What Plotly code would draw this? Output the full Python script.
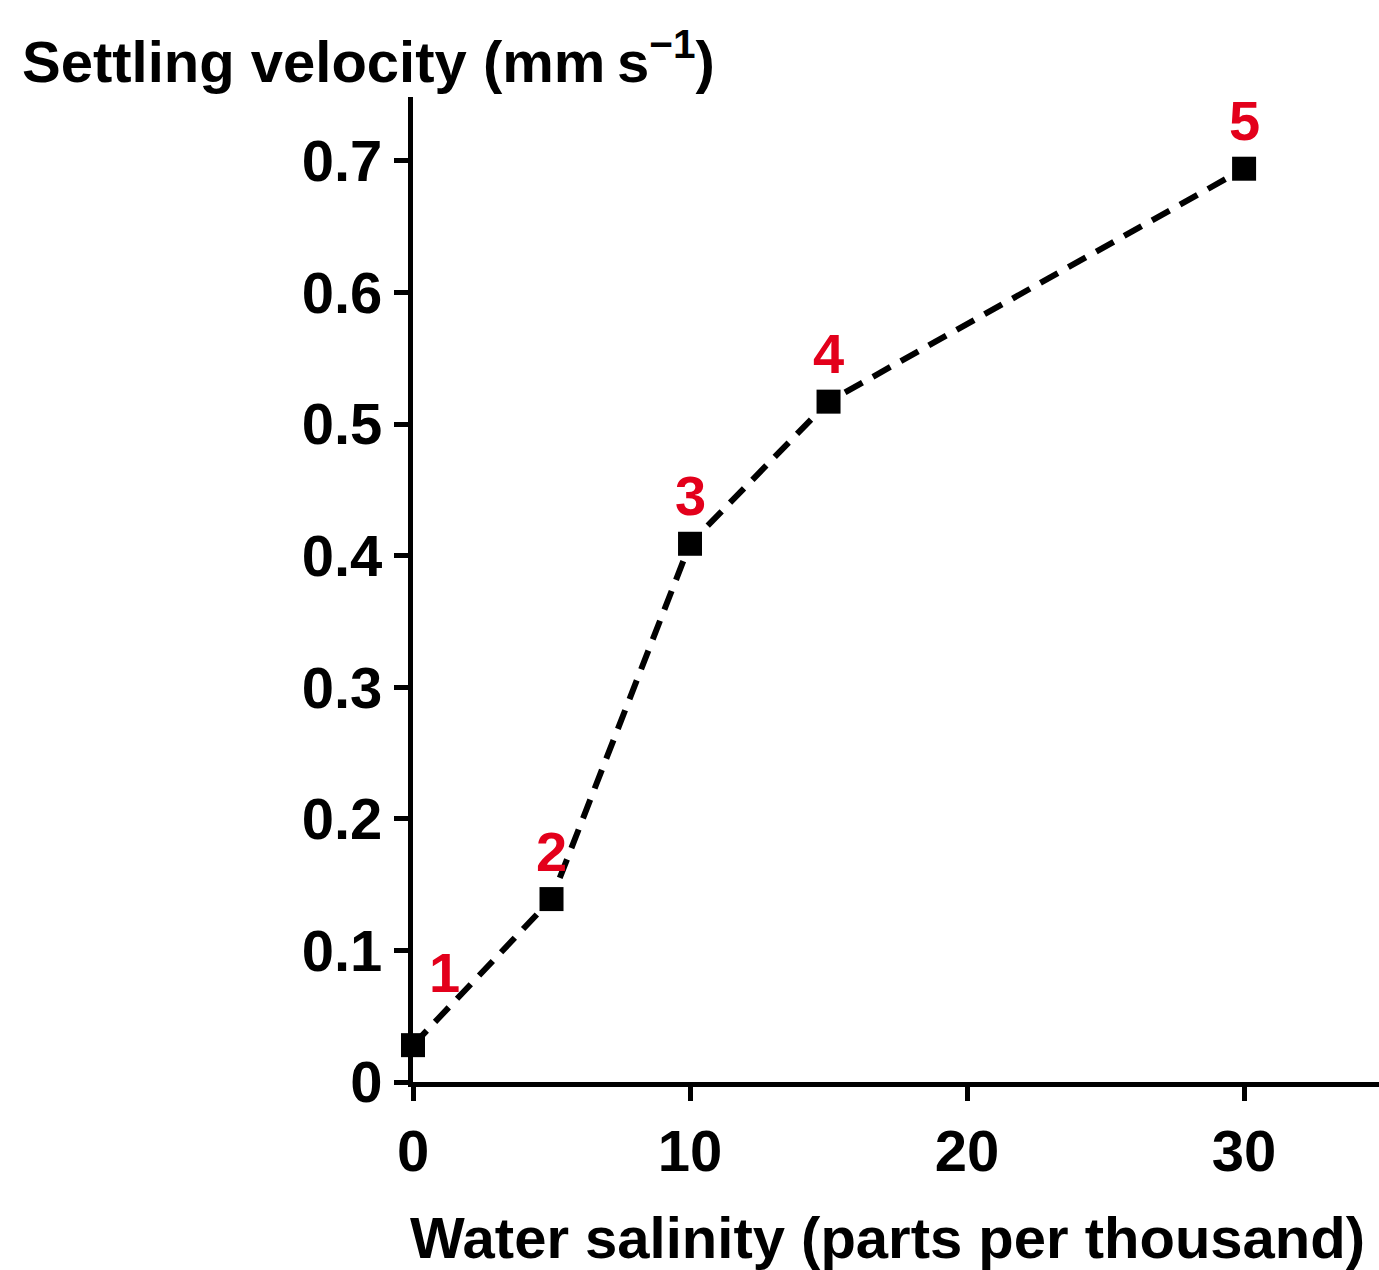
import plotly.graph_objects as go

salinity = [0, 5, 10, 15, 30]
velocity = [0.028, 0.139, 0.409, 0.517, 0.694]
point_labels = ["1", "2", "3", "4", "5"]
x_ticks = [0, 10, 20, 30]
x_tick_text = ["0", "10", "20", "30"]
y_ticks = [0, 0.1, 0.2, 0.3, 0.4, 0.5, 0.6, 0.7]
y_tick_text = ["0", "0.1", "0.2", "0.3", "0.4", "0.5", "0.6", "0.7"]

FONT = "Liberation Sans, Arial, sans-serif"
RED = "#e3001b"

fig = go.Figure()
fig.add_trace(go.Scatter(
    x=salinity, y=velocity, mode="lines+markers",
    line=dict(color="black", width=6, dash="20px,12px"),
    marker=dict(symbol="square", size=24, color="black"),
    cliponaxis=False, showlegend=False, hoverinfo="skip",
))

for i, (xv, yv, lab) in enumerate(zip(salinity, velocity, point_labels)):
    if i == 0:
        xs, ys = 31, 73
    else:
        xs, ys = 0, 48
    fig.add_annotation(x=xv, y=yv, text=f"<b>{lab}</b>", showarrow=False,
                       xshift=xs, yshift=ys,
                       font=dict(family=FONT, size=56, color=RED))

fig.add_annotation(xref="paper", yref="paper", x=(20 - 413) / 966, y=1 + 40/985,
                   xanchor="left", yanchor="middle", showarrow=False,
                   text="<b>Settling velocity (mm\u2009s<sup>\u22121</sup>)</b>",
                   font=dict(family=FONT, size=58, color="black"))
fig.add_annotation(xref="paper", yref="paper", x=(1367 - 413) / 966, y=-155/985,
                   xanchor="right", yanchor="middle", showarrow=False,
                   text="<b>Water salinity (parts per thousand)</b>",
                   font=dict(family=FONT, size=58, color="black"))

fig.update_xaxes(range=[0, 34.87], tickvals=x_ticks, ticktext=[f"<b>{t}</b>" for t in x_tick_text],
                 showgrid=False, zeroline=False,
                 showline=True, linecolor="black", linewidth=5,
                 ticks="outside", ticklen=14, tickwidth=5, tickcolor="black",
                 tickfont=dict(family=FONT, size=58, color="black"))
fig.update_yaxes(range=[0, 0.7485], tickvals=y_ticks, ticktext=[f"<b>{t}</b>" for t in y_tick_text],
                 showgrid=False, zeroline=False,
                 showline=True, linecolor="black", linewidth=5,
                 ticks="outside", ticklen=14, tickwidth=5, tickcolor="black",
                 tickfont=dict(family=FONT, size=58, color="black"))

fig.update_layout(width=1379, height=1270, margin=dict(l=413, r=0, t=97, b=188),
                  plot_bgcolor="white", paper_bgcolor="white", hovermode=False)
fig.write_html("out.html", config={"displayModeBar": False, "staticPlot": True},
               post_script="document.body.style.margin='0';document.body.style.overflow='hidden';")
